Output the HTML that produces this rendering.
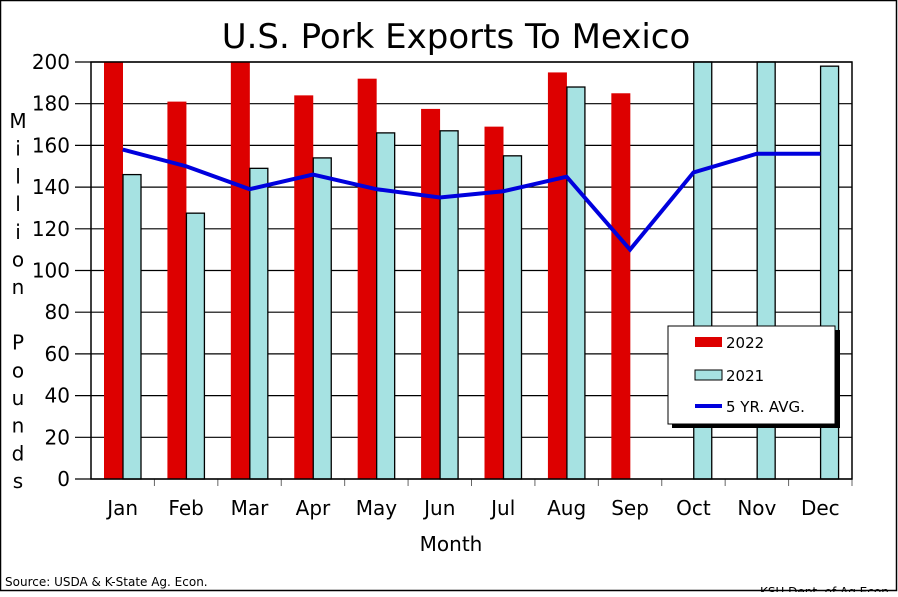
<!DOCTYPE html>
<html><head><meta charset="utf-8"><style>
body{margin:0;background:#fff}
svg text{font-family:"DejaVu Sans","Liberation Sans",sans-serif}
</style></head><body>
<svg width="898" height="592" viewBox="0 0 898 592">
<rect x="0.5" y="0.5" width="896" height="590" fill="#fff" stroke="#000" stroke-width="1.5"/>
<text x="456" y="48" font-size="34" text-anchor="middle">U.S. Pork Exports To Mexico</text>
<g id="grid"></g>
<g id="bars"></g>
<g id="line"></g>
<g id="axes"></g>
<g font-size="20" text-anchor="middle" id="ytitle"></g>
<text x="451" y="551" font-size="20" text-anchor="middle">Month</text>
<text x="5" y="586" font-size="12">Source:  USDA &amp; K-State Ag. Econ.</text>
<text x="760" y="596" font-size="12">KSU Dept. of Ag Econ</text>
<g>
<rect x="672" y="330" width="168" height="98" fill="#000"/>
<rect x="668" y="326" width="167" height="98" fill="#fff" stroke="#000"/>
<rect x="695" y="337" width="27" height="10" fill="#dd0000"/>
<text x="726" y="348" font-size="15">2022</text>
<rect x="695" y="370" width="27" height="10" fill="#a6e2e2" stroke="#000"/>
<text x="726" y="381" font-size="15">2021</text>
<line x1="695" y1="406" x2="722" y2="406" stroke="#0000dd" stroke-width="4"/>
<text x="726" y="412" font-size="15">5 YR. AVG.</text>
</g>
</svg>
<script>
const months=["Jan","Feb","Mar","Apr","May","Jun","Jul","Aug","Sep","Oct","Nov","Dec"];
const v2022=[210,181,210,184,192,177.5,169,195,185,null,null,null];
const v2021=[146,127.5,149,154,166,167,155,188,null,210,210,198];
const avg5=[158,150,139,146,139,135,138,145,110,147,156,156];
const yTicks=[0,20,40,60,80,100,120,140,160,180,200];
const yTitle=["M","i","l","l","i","o","n","","P","o","u","n","d","s"];
const NS="http://www.w3.org/2000/svg";
const L=91,R=852,T=62,B=479,yMax=200;
const bw=(R-L)/12;
const y=v=>B-Math.min(v,yMax)/yMax*(B-T);
const x=i=>L+i*bw;
function mk(tag,at,parent){const e=document.createElementNS(NS,tag);for(const k in at)e.setAttribute(k,at[k]);document.getElementById(parent).appendChild(e);return e;}
yTicks.forEach(t=>{
 const g=mk("line",{x1:L-16,x2:R,y1:y(t),y2:y(t),stroke:"#000","stroke-width":1.2},"grid");
 
 
 const tx=mk("text",{x:70,y:y(t)+7,"font-size":20,"text-anchor":"end"},"axes");
 tx.textContent=t;
 
 
});
months.forEach((m,i)=>{
 if(v2022[i]!=null){const r=mk("rect",{x:x(i)+13,y:y(v2022[i]),width:19,height:B-y(v2022[i]),fill:"#dd0000"},"bars");
  
  }
 if(v2021[i]!=null){const r=mk("rect",{x:x(i)+32,y:y(v2021[i]),width:18,height:B-y(v2021[i]),fill:"#a6e2e2",stroke:"#000","stroke-width":1.3},"bars");
  
  }
 const tx=mk("text",{x:x(i)+bw/2,y:515,"font-size":20,"text-anchor":"middle"},"axes");
 tx.textContent=m;
 
 
 const tk=mk("line",{x1:x(i+1),x2:x(i+1),y1:B,y2:B+7,stroke:"#666"},"axes");
 
 
});
const pl=mk("polyline",{points:avg5.map((v,i)=>(x(i)+bw/2)+","+y(v)).join(" "),fill:"none",stroke:"#0000dd","stroke-width":4},"line");


const fr=mk("rect",{x:L,y:T,width:R-L,height:B-T,fill:"none",stroke:"#000","stroke-width":1.5},"axes");


yTitle.forEach((c,i)=>{const t=mk("text",{x:18,y:128+i*27.7},"ytitle");t.textContent=c;});
</script>
</body></html>
